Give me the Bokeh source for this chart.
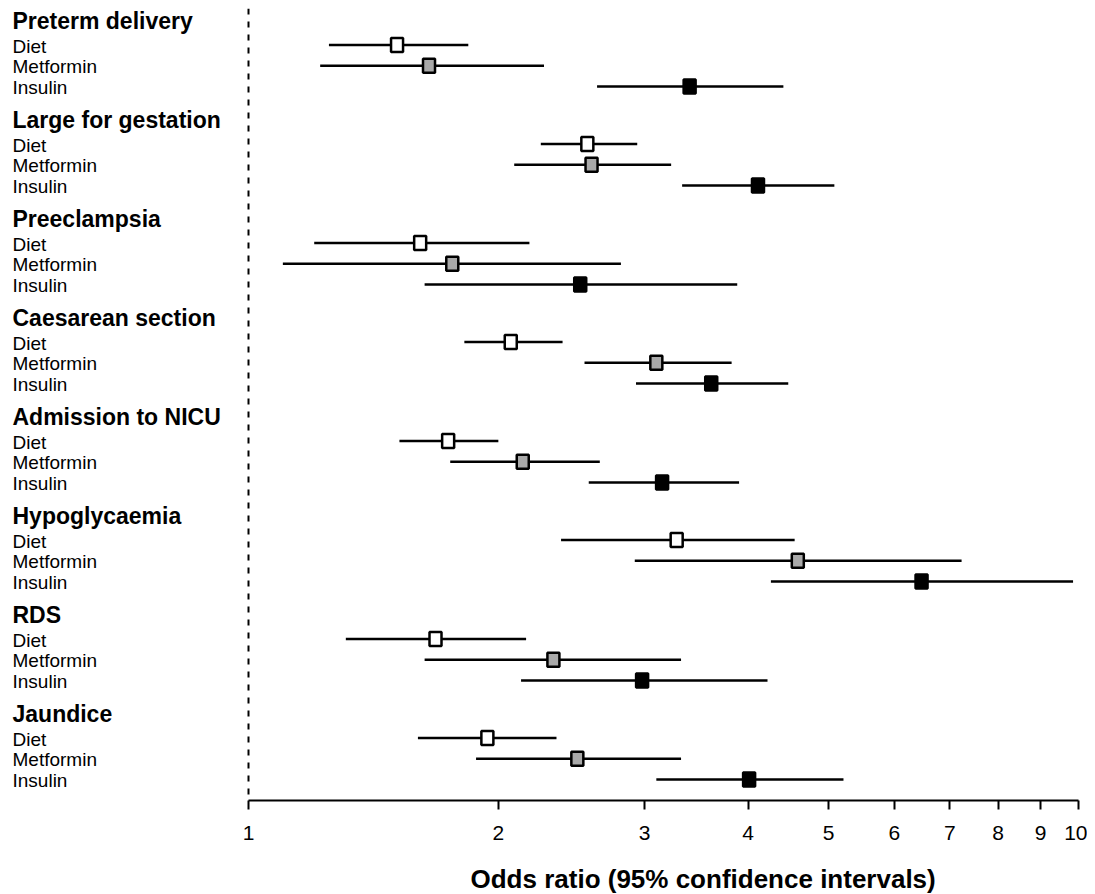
from bokeh.plotting import figure
from bokeh.models import (ColumnDataSource, Range1d, FixedTicker, PrintfTickFormatter,
                          Span, Title)
from bokeh.core.properties import value
from bokeh.embed import file_html
from bokeh.resources import INLINE

# ---------------- data ----------------
outcomes = ["Preterm delivery", "Large for gestation", "Preeclampsia", "Caesarean section",
            "Admission to NICU", "Hypoglycaemia", "RDS", "Jaundice"]
treatments = ["Diet", "Metformin", "Insulin"]

or_diet = [1.51, 2.56, 1.61, 2.07, 1.74, 3.28, 1.68, 1.94]
lo_diet = [1.25, 2.25, 1.20, 1.82, 1.52, 2.38, 1.31, 1.60]
hi_diet = [1.84, 2.94, 2.18, 2.39, 2.00, 4.55, 2.16, 2.35]

or_met = [1.65, 2.59, 1.76, 3.10, 2.14, 4.59, 2.33, 2.49]
lo_met = [1.22, 2.09, 1.10, 2.54, 1.75, 2.92, 1.63, 1.88]
hi_met = [2.27, 3.23, 2.81, 3.82, 2.65, 7.23, 3.32, 3.32]

or_ins = [3.40, 4.11, 2.51, 3.61, 3.15, 6.47, 2.98, 4.01]
lo_ins = [2.63, 3.33, 1.63, 2.93, 2.57, 4.26, 2.13, 3.10]
hi_ins = [4.41, 5.08, 3.88, 4.47, 3.90, 9.85, 4.22, 5.21]

tick_values = [1, 2, 3, 4, 5, 6, 7, 8, 9, 10]
axis_title = "Odds ratio (95% confidence intervals)"

# ---------------- layout constants ----------------
FRAME_W = 1079
BORDER_L, BORDER_T, BORDER_B = 8, 8, 94
W = FRAME_W + BORDER_L
H = 894
LEFT_PX = 240          # pixels from frame left edge to OR = 1
DECADE_PX = 830        # pixels per decade
FRAME_TOP, FRAME_BOTTOM = 8, 800
FIRST_ROW, GROUP_STEP, ROW_STEP = 44.5, 99.0, 20.8
LABEL_PX = 4           # label left edge in frame px

FONT = "Liberation Sans"
fills = ["white", "#a9a9a9", "black"]

def px_to_x(px):
    return 10 ** ((px - LEFT_PX) / DECADE_PX)

p = figure(width=W, height=H, x_axis_type="log",
           x_range=Range1d(px_to_x(0), px_to_x(FRAME_W)),
           y_range=Range1d(FRAME_BOTTOM, FRAME_TOP),
           output_backend="svg", toolbar_location=None,
           min_border_left=BORDER_L, min_border_right=0, min_border_top=BORDER_T,
           min_border_bottom=BORDER_B, y_axis_location=None)
p.outline_line_color = None
p.grid.visible = False
p.background_fill_color = "white"
p.border_fill_color = "white"

# reference line at OR = 1
p.add_layout(Span(location=1, dimension="height", line_color="black",
                  line_width=2, line_dash="6 7"))

series = [(or_diet, lo_diet, hi_diet), (or_met, lo_met, hi_met), (or_ins, lo_ins, hi_ins)]

head_x, head_y, head_t = [], [], []
lab_x, lab_y, lab_t = [], [], []
for g, name in enumerate(outcomes):
    base = FIRST_ROW + GROUP_STEP * g
    head_x.append(px_to_x(LABEL_PX))
    head_y.append(base - 24)
    head_t.append(name)
    for r, tr in enumerate(treatments):
        lab_x.append(px_to_x(LABEL_PX))
        lab_y.append(base + ROW_STEP * r + 1.0)
        lab_t.append(tr)

for r, (orv, lo, hi) in enumerate(series):
    ys = [FIRST_ROW + GROUP_STEP * g + ROW_STEP * r for g in range(len(outcomes))]
    src = ColumnDataSource(dict(y=ys, orv=orv, lo=lo, hi=hi))
    p.segment(x0="lo", y0="y", x1="hi", y1="y", source=src,
              line_color="black", line_width=2.5)
    p.rect(x="orv", y="y", width=12, height=14, width_units="screen",
           height_units="screen", source=src, fill_color=fills[r],
           line_color="black", line_width=2.5)

p.text(x=head_x, y=head_y, text=head_t, text_font=value(FONT), text_font_size="23px",
       text_font_style="bold", text_color="black", text_baseline="alphabetic",
       text_align="left")
p.text(x=lab_x, y=lab_y, text=lab_t, text_font=value(FONT), text_font_size="19px",
       text_color="black", text_baseline="alphabetic", text_align="left")

ax = p.xaxis[0]
ax.bounds = (1, 10)
ax.ticker = FixedTicker(ticks=tick_values, minor_ticks=[])
ax.formatter = PrintfTickFormatter(format="%d")
ax.axis_line_width = 2
ax.axis_line_color = "black"
ax.major_tick_line_width = 2
ax.major_tick_line_color = "black"
ax.major_tick_out = 9
ax.major_tick_in = 0
ax.minor_tick_line_color = None
ax.major_label_standoff = 16
ax.major_label_text_font = FONT
ax.major_label_text_font_size = "21px"
ax.major_label_text_color = "black"
# spacer between tick labels and the axis title
ax.axis_label = " "
ax.axis_label_text_font_size = "1px"
ax.axis_label_standoff = 14

p.add_layout(Title(text=axis_title, align="left", offset=462, text_font=FONT,
                   text_font_size="26px", text_font_style="bold", text_color="black",
                   standoff=2), "below")

open("out.html", "w").write(file_html(p, INLINE))
